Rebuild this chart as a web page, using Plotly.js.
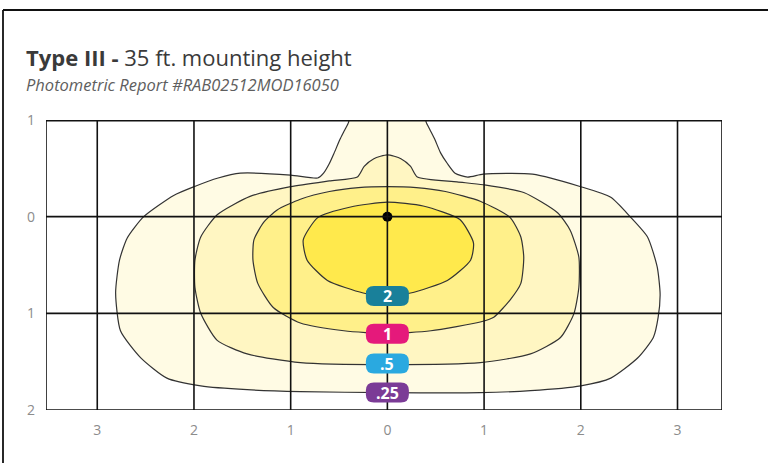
<!DOCTYPE html>
<html>
<head>
<meta charset="utf-8">
<script src="https://cdn.plot.ly/plotly-3.0.1.min.js"></script>
<style>html,body{margin:0;padding:0;background:#fff;}#chart{width:768px;height:463px;}</style>
</head>
<body>
<div id="chart"></div>
<script>
// ---- data (x: multiples of mounting height, y: downward positive) ----
var xTickVals = [-3, -2, -1, 0, 1, 2, 3];
var xTickText = ['3', '2', '1', '0', '1', '2', '3'];
var yTickVals = [-1, 0, 1, 2];
var yTickText = ['1', '0', '1', '2'];

var levels = ['.25', '.5', '1', '2'];
var levelFill = ['#fffbe4', '#fff6c2', '#fff08a', '#ffe94c'];
var labelColors = ['#7b3b96', '#2aa9e0', '#e5197b', '#19809a'];
var labelY = [1.82, 1.52, 1.21, 0.82];

var c025x = [-0.40,-0.40,-0.45,-0.49,-0.55,-0.60,-0.66,-0.72,-1.00,-1.52,-1.75,-2.00,-2.21,-2.52,-2.69,-2.77,-2.81,-2.76,-2.55,-2.28,-1.93,-1.45,-0.90,0.00,0.96,1.48,2.00,2.31,2.59,2.75,2.80,2.82,2.79,2.69,2.51,2.31,2.00,1.50,0.99,0.83,0.70,0.62,0.55,0.49,0.44,0.40,0.40];
var c025y = [-1.08,-0.98,-0.88,-0.80,-0.66,-0.55,-0.45,-0.40,-0.43,-0.45,-0.40,-0.31,-0.22,0.00,0.22,0.45,0.79,1.18,1.46,1.67,1.75,1.79,1.81,1.82,1.82,1.80,1.75,1.67,1.46,1.25,1.04,0.80,0.52,0.21,0.00,-0.20,-0.31,-0.44,-0.44,-0.41,-0.45,-0.55,-0.66,-0.80,-0.90,-0.98,-1.08];

var c05x = [0.00,-0.14,-0.24,-0.31,-0.60,-1.00,-1.42,-1.76,-1.93,-1.99,-1.99,-1.93,-1.76,-1.45,-0.90,0.00,0.96,1.48,1.79,1.93,1.98,1.98,1.89,1.76,1.41,0.99,0.72,0.31,0.24,0.14,0.00];
var c05y = [-0.64,-0.60,-0.52,-0.41,-0.37,-0.31,-0.21,-0.02,0.21,0.45,0.73,1.00,1.28,1.42,1.51,1.53,1.51,1.42,1.25,1.00,0.73,0.42,0.14,-0.04,-0.25,-0.33,-0.36,-0.41,-0.52,-0.60,-0.64];

var c1x = [0.00,-0.30,-0.60,-0.90,-1.14,-1.28,-1.38,-1.39,-1.34,-1.18,-0.90,-0.45,0.00,0.45,0.96,1.10,1.27,1.38,1.41,1.38,1.27,0.96,0.60,0.30,0.00];
var c1y = [-0.31,-0.30,-0.26,-0.18,-0.07,0.06,0.24,0.45,0.69,0.94,1.10,1.18,1.21,1.18,1.09,1.04,0.86,0.69,0.42,0.21,0.01,-0.16,-0.26,-0.30,-0.31];

var c2x = [0.00,-0.38,-0.72,-0.87,-0.83,-0.62,-0.25,0.00,0.24,0.62,0.86,0.89,0.75,0.37,0.00];
var c2y = [-0.15,-0.10,0.01,0.24,0.45,0.66,0.79,0.82,0.79,0.66,0.45,0.27,0.03,-0.11,-0.15];

var poleX = [0];
var poleY = [0];

// ---- layout geometry ----
var W = 768, H = 463;
var M = {l: 46, r: 46, t: 120, b: 53};
var PW = W - M.l - M.r, PH = H - M.t - M.b;
function px2paperX(px) { return (px - M.l) / PW; }
function px2paperY(py) { return (H - M.b - py) / PH; }

var xs = [c025x, c05x, c1x, c2x];
var ys = [c025y, c05y, c1y, c2y];
var traces = [];
for (var i = 0; i < levels.length; i++) {
  traces.push({
    type: 'scatter', mode: 'lines', x: xs[i], y: ys[i],
    fill: 'toself', fillcolor: levelFill[i],
    line: {color: '#333333', width: 1.2, shape: 'spline', smoothing: 0.6},
    hoverinfo: 'skip', showlegend: false, name: levels[i]
  });
}
traces.push({type: 'scatter', mode: 'markers', x: poleX, y: poleY,
  marker: {color: '#000', size: 10}, showlegend: false, hoverinfo: 'skip'});

var xr = [-3.53, 3.46], yr = [2, -1];
var shapes = [];
// grid lines drawn above fills (as in the reference)
xTickVals.forEach(function (v) {
  shapes.push({type: 'line', xref: 'x', yref: 'y', x0: v, x1: v, y0: yr[0], y1: yr[1],
    line: {color: '#111', width: 1.6}, layer: 'above'});
});
yTickVals.forEach(function (v) {
  shapes.push({type: 'line', xref: 'x', yref: 'y', x0: xr[0], x1: (v === yr[1]) ? xr[1] + 0.04 : xr[1], y0: v, y1: v,
    line: {color: '#111', width: (v === yr[1]) ? 3.2 : 1.6}, layer: 'above'});
});
// plot border sides
shapes.push({type: 'line', xref: 'x', yref: 'y', x0: xr[0], x1: xr[0], y0: yr[0], y1: yr[1], line: {color: '#111', width: 1.6}});
shapes.push({type: 'line', xref: 'x', yref: 'y', x0: xr[1], x1: xr[1], y0: yr[0], y1: yr[1], line: {color: '#111', width: 1.6}});
// outer frame
shapes.push({type: 'line', xref: 'paper', yref: 'paper', x0: px2paperX(3), x1: px2paperX(770), y0: px2paperY(10), y1: px2paperY(10), line: {color: '#111', width: 1.8}});
shapes.push({type: 'line', xref: 'paper', yref: 'paper', x0: px2paperX(3), x1: px2paperX(3), y0: px2paperY(10), y1: px2paperY(470), line: {color: '#111', width: 1.8}});

// rounded label badges
function rr(w, h, r) {
  var a = w / 2, b = h / 2;
  return 'M ' + (-a + r) + ' ' + (-b) + ' L ' + (a - r) + ' ' + (-b) +
    ' Q ' + a + ' ' + (-b) + ' ' + a + ' ' + (-b + r) +
    ' L ' + a + ' ' + (b - r) + ' Q ' + a + ' ' + b + ' ' + (a - r) + ' ' + b +
    ' L ' + (-a + r) + ' ' + b + ' Q ' + (-a) + ' ' + b + ' ' + (-a) + ' ' + (b - r) +
    ' L ' + (-a) + ' ' + (-b + r) + ' Q ' + (-a) + ' ' + (-b) + ' ' + (-a + r) + ' ' + (-b) + ' Z';
}
var annotations = [];
for (var j = 0; j < levels.length; j++) {
  shapes.push({type: 'path', xref: 'x', yref: 'y', xsizemode: 'pixel', ysizemode: 'pixel',
    xanchor: 0, yanchor: labelY[j], path: rr(43, 20, 8),
    fillcolor: labelColors[j], line: {width: 0}, layer: 'above'});
  annotations.push({xref: 'x', yref: 'y', x: 0, y: labelY[j], text: '<b>' + levels[j] + '</b>',
    showarrow: false, font: {family: 'Open Sans, sans-serif', size: 16, color: '#ffffff'},
    xanchor: 'center', yanchor: 'middle'});
}
annotations.push({xref: 'paper', yref: 'paper', x: px2paperX(24), y: px2paperY(74),
  xanchor: 'left', yanchor: 'bottom', showarrow: false,
  text: '<b>Type III -</b> 35 ft. mounting height',
  font: {family: 'Open Sans, sans-serif', size: 22, color: '#3a3a3a'}});
annotations.push({xref: 'paper', yref: 'paper', x: px2paperX(24), y: px2paperY(98),
  xanchor: 'left', yanchor: 'bottom', showarrow: false,
  text: '<i>Photometric Report #RAB02512MOD16050</i>',
  font: {family: 'Open Sans, sans-serif', size: 16.5, color: '#5e5e5e'}});

var layout = {
  width: W, height: H, margin: M,
  paper_bgcolor: '#ffffff', plot_bgcolor: '#ffffff',
  showlegend: false,
  xaxis: {range: xr, tickvals: xTickVals, ticktext: xTickText, showgrid: false, zeroline: false,
    showline: false, ticks: '', ticklabelstandoff: 10,
    tickfont: {family: 'Open Sans, sans-serif', size: 14, color: '#8c8c8c'}, fixedrange: true},
  yaxis: {range: yr, tickvals: yTickVals, ticktext: yTickText, showgrid: false, zeroline: false,
    showline: false, ticks: '', ticklabelstandoff: 10,
    tickfont: {family: 'Open Sans, sans-serif', size: 14, color: '#8c8c8c'}, fixedrange: true},
  shapes: shapes, annotations: annotations
};
Plotly.newPlot('chart', traces, layout, {displayModeBar: false, staticPlot: true});
</script>
</body>
</html>
